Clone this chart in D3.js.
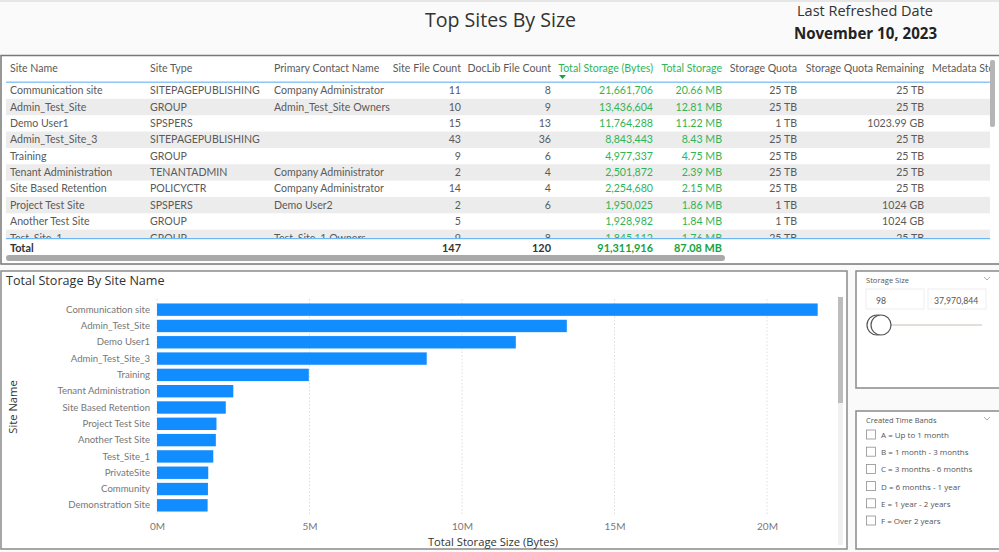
<!DOCTYPE html>
<html><head><meta charset="utf-8">
<script src="https://cdn.jsdelivr.net/npm/d3@7"></script>
<style>
html,body{margin:0;padding:0;background:#fff;overflow:hidden}
svg{display:block}
text{font-family:"Open Sans","Noto Sans",sans-serif}
</style></head><body><svg id="c" width="999" height="552"></svg>
<script>
const siteNames=["Communication site","Admin_Test_Site","Demo User1","Admin_Test_Site_3","Training","Tenant Administration","Site Based Retention","Project Test Site","Another Test Site","Test_Site_1"];
const siteTypes=["SITEPAGEPUBLISHING","GROUP","SPSPERS","SITEPAGEPUBLISHING","GROUP","TENANTADMIN","POLICYCTR","SPSPERS","GROUP","GROUP"];
const contacts=["Company Administrator","Admin_Test_Site Owners","","","","Company Administrator","Company Administrator","Demo User2","","Test_Site_1 Owners"];
const fileCounts=["11","10","15","43","9","2","14","2","5","9"];
const docCounts=["8","9","13","36","6","4","4","6","","8"];
const storageBytes=["21,661,706","13,436,604","11,764,288","8,843,443","4,977,337","2,501,872","2,254,680","1,950,025","1,928,982","1,845,112"];
const storageText=["20.66 MB","12.81 MB","11.22 MB","8.43 MB","4.75 MB","2.39 MB","2.15 MB","1.86 MB","1.84 MB","1.76 MB"];
const quotas=["25 TB","25 TB","1 TB","25 TB","25 TB","25 TB","25 TB","1 TB","1 TB","25 TB"];
const remaining=["25 TB","25 TB","1023.99 GB","25 TB","25 TB","25 TB","25 TB","1024 GB","1024 GB","25 TB"];
const headers=["Site Name","Site Type","Primary Contact Name","Site File Count","DocLib File Count","Total Storage (Bytes)","Total Storage","Storage Quota","Storage Quota Remaining","Metadata Storage"];
const totals=["Total","","","147","120","91,311,916","87.08 MB","",""];
const chartSites=["Communication site","Admin_Test_Site","Demo User1","Admin_Test_Site_3","Training","Tenant Administration","Site Based Retention","Project Test Site","Another Test Site","Test_Site_1","PrivateSite","Community","Demonstration Site"];
const chartValues=[21661706,13436604,11764288,8843443,4977337,2501872,2254680,1950025,1928982,1845112,1680000,1670000,1660000];
const xTicks=[0,5e6,10e6,15e6,20e6];
const bands=["A = Up to 1 month","B = 1 month - 3 months","C = 3 months - 6 months","D = 6 months - 1 year","E = 1 year - 2 years","F = Over 2 years"];
const sliderLabels=["98","37,970,844"];

const svg=d3.select("#c");
const T=(g,x,y,s,o={})=>g.append("text").attr("x",x).attr("y",y).text(s)
  .attr("font-size",o.size||10.6).attr("fill",o.fill||"#5a5a5a").attr("text-anchor",o.anchor||"start")
  .attr("font-weight",o.weight||400).attr("dominant-baseline","central").style("font-family",o.font||"Lato");
const box=(x,y,w,h,st="#8a8a8a",fill="#fff",sw=1.5)=>svg.append("rect").attr("x",x).attr("y",y).attr("width",w).attr("height",h).attr("fill",fill).attr("stroke",st).attr("stroke-width",sw);
const OS='"Open Sans"';

// page header
svg.append("rect").attr("width",999).attr("height",552).attr("fill","#fafafa");
svg.append("rect").attr("width",999).attr("height",2).attr("fill","#e6e6e6");
T(svg,500.5,19.5,"Top Sites By Size",{size:19.6,fill:"#333",anchor:"middle",font:OS});
T(svg,865,10,"Last Refreshed Date",{size:14.5,fill:"#333",anchor:"middle",font:OS});
T(svg,865.5,33,"November 10, 2023",{size:15.1,fill:"#222",anchor:"middle",weight:700,font:OS});

// table
box(1,55.5,1000,208.5,"#777");
const defs=svg.append("defs");
defs.append("clipPath").attr("id","tb").append("rect").attr("x",2).attr("y",60).attr("width",988).attr("height",178);
const tbl=svg.append("g").attr("clip-path","url(#tb)");
const colX=[10,150,274,461,551,653,722,797,924,932];
const anchors=["start","start","start","end","end","end","end","end","end","start"];
const colData=[siteNames,siteTypes,contacts,fileCounts,docCounts,storageBytes,storageText,quotas,remaining];
const green="#2fb457";
const rowY=d3.scaleBand().domain(d3.range(siteNames.length)).range([82.5,246]);
siteNames.forEach((_,i)=>{
  if(i%2) tbl.append("rect").attr("x",6).attr("y",rowY(i)).attr("width",984).attr("height",rowY.bandwidth()).attr("fill","#ececec");
});
colData.forEach((col,c)=>col.forEach((v,i)=>{
  if(v) T(tbl,colX[c],rowY(i)+rowY.bandwidth()/2-0.3,v,{anchor:anchors[c],fill:(c==5||c==6)?green:"#5a5a5a"});
}));
headers.forEach((h,c)=>T(tbl,colX[c],67.8,h,{anchor:anchors[c],fill:(c==5||c==6)?green:"#5a5a5a"}));
tbl.append("path").attr("d",d3.line()([[559,75],[566,75],[562.5,79]])).attr("fill","#1f9e46");
svg.append("rect").attr("x",6).attr("y",81.5).attr("width",984).attr("height",1.4).attr("fill","#86c1f7");
svg.append("rect").attr("x",6).attr("y",238).attr("width",984).attr("height",1.2).attr("fill","#6cb6f5");
totals.forEach((v,c)=>{ if(v) T(svg,colX[c],247.5,v,{anchor:anchors[c],weight:700,size:10.9,fill:(c==5||c==6)?"#15a33f":"#333"}); });
svg.append("rect").attr("x",6).attr("y",255).attr("width",719).attr("height",6).attr("rx",3).attr("fill","#a9a9a9");
svg.append("rect").attr("x",990).attr("y",60).attr("width",5).attr("height",67).attr("rx",2).attr("fill","#b5b5b5");

// chart panel
box(1,271,846,278,"#8a8a8a");
T(svg,6,280,"Total Storage By Site Name",{size:12.6,fill:"#333",font:OS});
const x=d3.scaleLinear().domain([0,20e6]).range([157,767]);
const y=d3.scaleBand().domain(chartSites).range([301.5,513.5]).paddingInner(0.24).paddingOuter(0.12);
const xa=svg.append("g").attr("transform","translate(0,522.5)")
  .call(d3.axisBottom(x).tickValues(xTicks).tickSize(0).tickPadding(0).tickFormat(d=>(d/1e6)+"M"));
xa.select(".domain").remove();
xa.selectAll("text").attr("font-size",10).attr("fill","#777").style("font-family","Lato").attr("dy","0.72em");
svg.append("g").selectAll("line").data(xTicks).join("line")
  .attr("x1",d=>x(d)).attr("x2",d=>x(d)).attr("y1",299).attr("y2",516)
  .attr("stroke","#ddd").attr("stroke-dasharray","1.5 2");
svg.append("g").selectAll("rect").data(chartValues).join("rect")
  .attr("x",x(0)).attr("y",(d,i)=>y(chartSites[i])).attr("width",d=>x(d)-x(0)).attr("height",y.bandwidth()).attr("fill","#118dff");
const ya=svg.append("g").attr("transform","translate(150,0)").call(d3.axisLeft(y).tickSize(0).tickPadding(0));
ya.select(".domain").remove();
ya.selectAll("text").attr("font-size",9.6).attr("fill","#777").style("font-family","Lato");
T(svg,12,407,"Site Name",{size:11.2,fill:"#333",anchor:"middle",font:OS}).attr("transform","rotate(-90 12 407)");
T(svg,493,541,"Total Storage Size (Bytes)",{size:11.2,fill:"#333",anchor:"middle",font:OS});
svg.append("rect").attr("x",838).attr("y",297).attr("width",5).attr("height",248).attr("fill","#f1f1f1");
svg.append("rect").attr("x",838).attr("y",297).attr("width",5).attr("height",106).attr("fill","#bdbdbd");

// slicers
const chev=(cx,cy)=>svg.append("path").attr("d",d3.line()([[cx-3,cy-2],[cx,cy+1],[cx+3,cy-2]])).attr("fill","none").attr("stroke","#999").attr("stroke-width",.8);
box(856,271,146,117,"#8a8a8a");
T(svg,866,280,"Storage Size",{size:7.6,fill:"#555",font:OS});
chev(987,279);
[[866,58],[928,58]].forEach(([bx,bw],i)=>{
  svg.append("rect").attr("x",bx).attr("y",289).attr("width",bw).attr("height",20).attr("fill","#fff").attr("stroke","#eee");
  T(svg,i?934:876,300,sliderLabels[i],{size:8.7,fill:"#555"});
});
svg.append("rect").attr("x",888).attr("y",324).attr("width",94).attr("height",2).attr("fill","#e3ded9");
[877,881].forEach(cx=>svg.append("circle").attr("cx",cx).attr("cy",325).attr("r",10).attr("fill","#fff").attr("stroke","#555").attr("stroke-width",1.2));

box(856,411,146,138,"#8a8a8a");
T(svg,866,420,"Created Time Bands",{size:7.5,fill:"#555",font:OS});
chev(987,419);
const by=d3.scalePoint().domain(bands).range([434.5,520.5]);
bands.forEach(b=>{
  svg.append("rect").attr("x",866.5).attr("y",by(b)-4.5).attr("width",9).attr("height",9).attr("fill","#fff").attr("stroke","#8f8f8f").attr("stroke-width",.8);
  T(svg,881,by(b),b,{size:8,fill:"#555",font:OS});
});
</script></body></html>
